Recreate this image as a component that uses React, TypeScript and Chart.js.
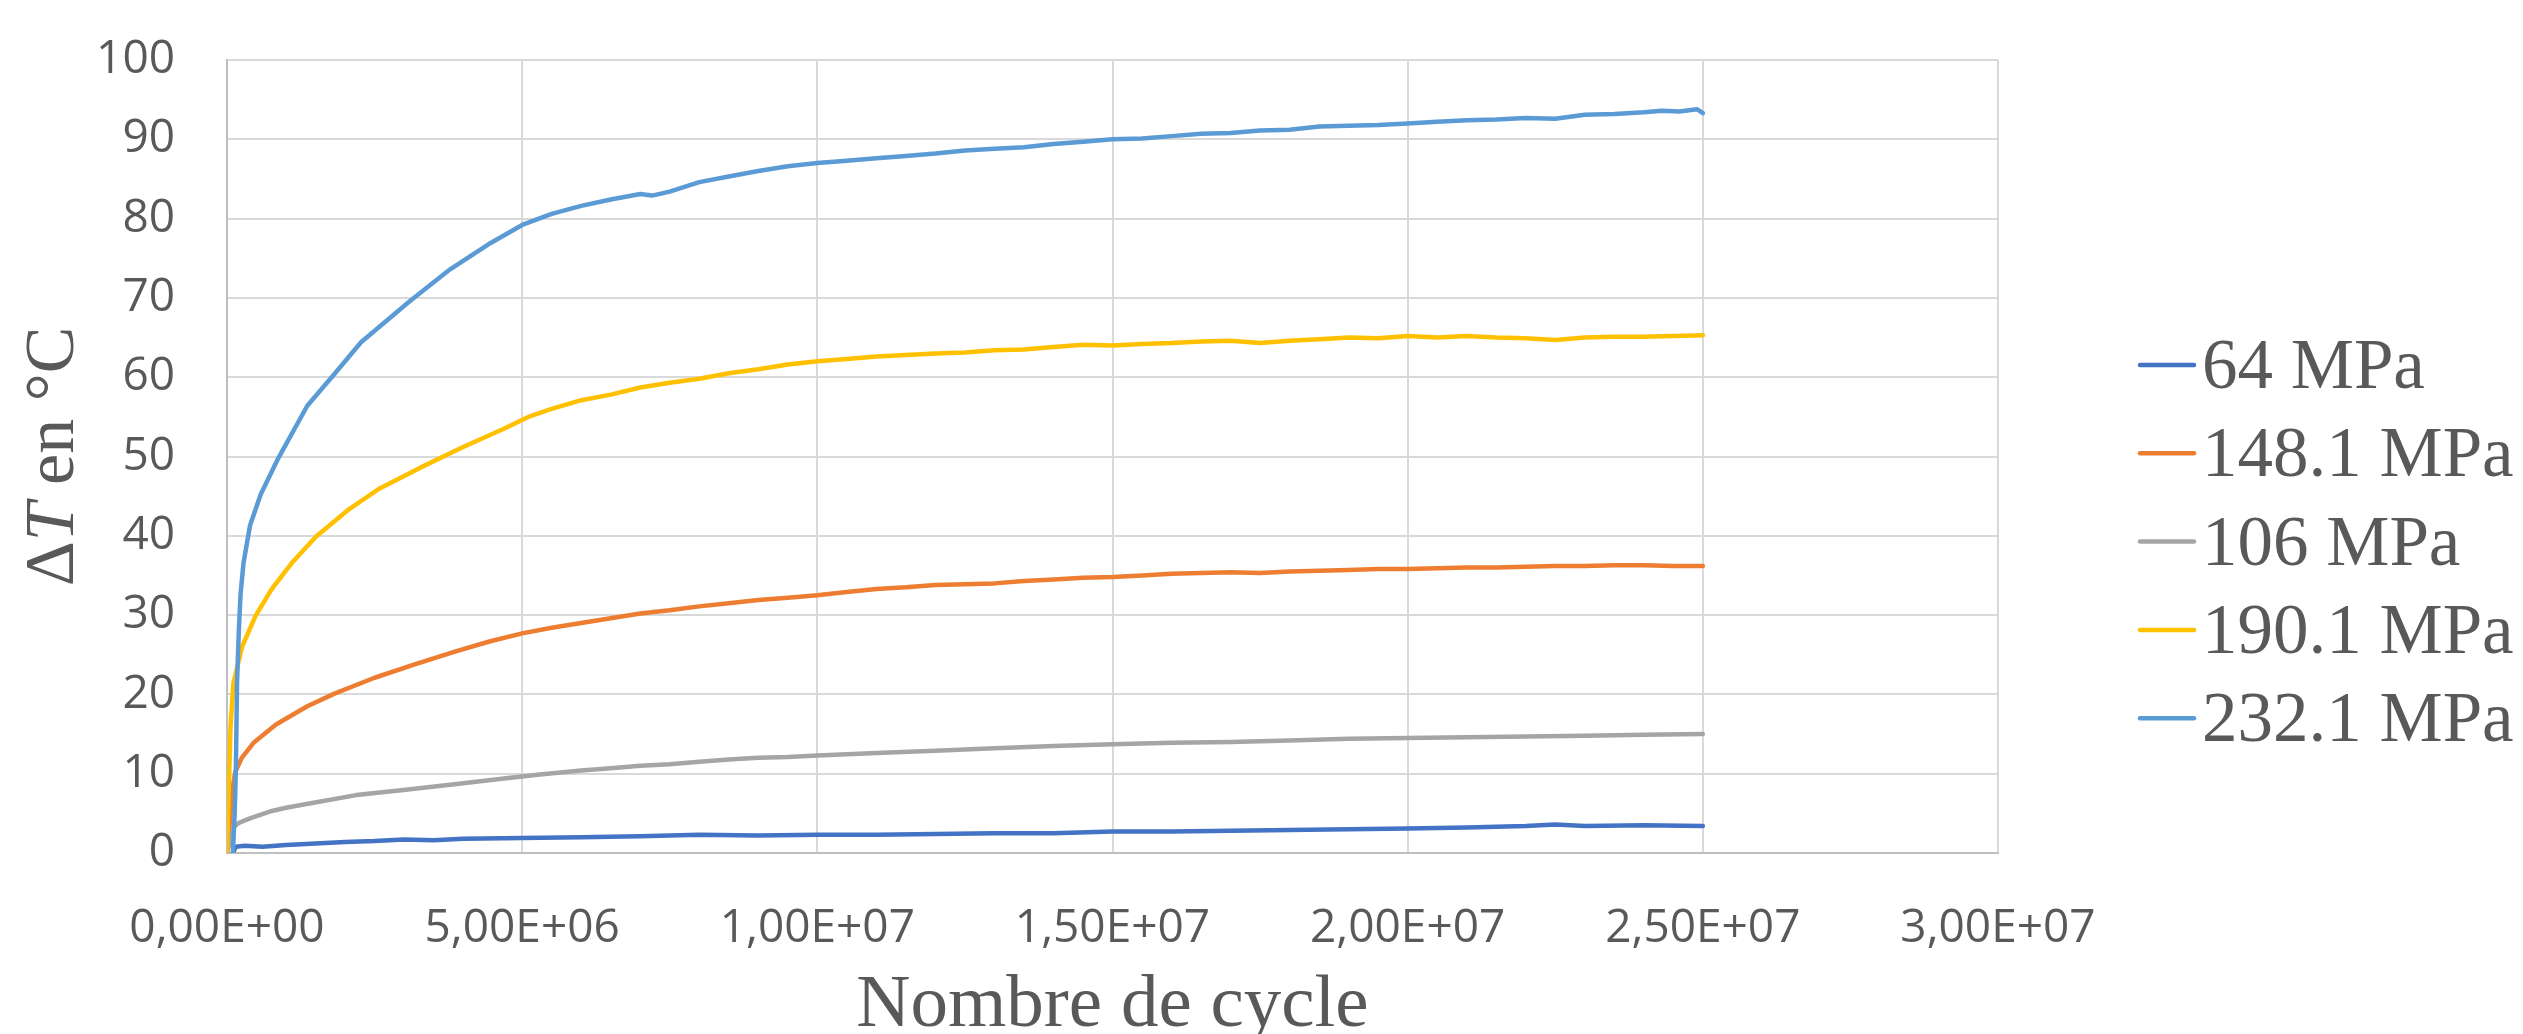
import React, { useEffect, useRef } from "react";
import { Chart, registerables } from "chart.js";

Chart.register(...registerables);

// ---- data (cycles in millions, ΔT in °C) ----
const SERIES_NAMES = ["64 MPa", "148.1 MPa", "106 MPa", "190.1 MPa", "232.1 MPa"];
const SERIES_COLORS = ["#4472C4", "#ED7D31", "#A5A5A5", "#FFC000", "#5B9BD5"];

const cycles64 = [0.10, 0.15, 0.3, 0.6, 1.0, 1.5, 2.0, 2.5, 3.0, 3.5, 4.0, 5.0, 6.0, 7.0, 8.0, 9.0, 10, 11, 12, 13, 14, 15, 16, 17, 18, 19, 20, 21, 22, 22.5, 23, 24, 25];
const dT64 = [0, 0.8, 0.9, 0.8, 1.0, 1.2, 1.4, 1.5, 1.7, 1.6, 1.8, 1.9, 2.0, 2.1, 2.3, 2.2, 2.3, 2.3, 2.4, 2.5, 2.5, 2.7, 2.7, 2.8, 2.9, 3.0, 3.1, 3.2, 3.4, 3.6, 3.4, 3.5, 3.4];

const cycles148 = [0, 0.05, 0.10, 0.14, 0.25, 0.45, 0.83, 1.36, 1.82, 2.5, 3.18, 3.86, 4.46, 5.0, 5.5, 6.0, 6.5, 7.0, 7.5, 8.0, 8.5, 9.0, 9.5, 10, 10.5, 11, 11.5, 12, 12.5, 13, 13.5, 14, 14.5, 15, 15.5, 16, 16.5, 17, 17.5, 18, 18.5, 19, 19.5, 20, 20.5, 21, 21.5, 22, 22.5, 23, 23.5, 24, 24.5, 25];
const dT148 = [0, 4, 8.5, 10.2, 12.0, 13.9, 16.2, 18.5, 20.1, 22.1, 23.8, 25.4, 26.7, 27.7, 28.4, 29.0, 29.6, 30.2, 30.6, 31.1, 31.5, 31.9, 32.2, 32.5, 32.9, 33.3, 33.5, 33.8, 33.9, 34.0, 34.3, 34.5, 34.7, 34.8, 35.0, 35.2, 35.3, 35.4, 35.3, 35.5, 35.6, 35.7, 35.8, 35.8, 35.9, 36.0, 36.0, 36.1, 36.2, 36.2, 36.3, 36.3, 36.2, 36.2];

const cycles106 = [0, 0.05, 0.12, 0.2, 0.4, 0.76, 1.0, 1.44, 2.19, 2.95, 3.78, 4.69, 5.3, 6.0, 6.5, 7.0, 7.5, 8.0, 8.5, 9, 9.5, 10, 11, 12, 13, 14, 15, 16, 17, 18, 19, 20, 21, 22, 23, 24, 25];
const dT106 = [0, 1.5, 3.3, 3.8, 4.4, 5.3, 5.7, 6.3, 7.3, 7.9, 8.6, 9.4, 9.9, 10.4, 10.7, 11.0, 11.2, 11.5, 11.8, 12.0, 12.1, 12.3, 12.6, 12.9, 13.2, 13.5, 13.7, 13.9, 14.0, 14.2, 14.4, 14.5, 14.6, 14.7, 14.8, 14.9, 15.0];

const cycles190 = [0, 0.03, 0.06, 0.11, 0.26, 0.49, 0.76, 1.10, 1.51, 2.04, 2.57, 3.25, 4.0, 4.69, 5.14, 5.5, 6.0, 6.5, 7.0, 7.5, 8.0, 8.5, 9.0, 9.5, 10, 10.5, 11, 11.5, 12, 12.5, 13, 13.5, 14, 14.5, 15, 15.5, 16, 16.5, 17, 17.5, 18, 18.5, 19, 19.5, 20, 20.5, 21, 21.5, 22, 22.5, 23, 23.5, 24, 24.5, 25];
const dT190 = [0, 8, 16, 21.5, 26.1, 30, 33.3, 36.6, 39.9, 43.2, 45.9, 48.5, 51.2, 53.5, 55.1, 56.0, 57.1, 57.8, 58.7, 59.3, 59.8, 60.5, 61.0, 61.6, 62.0, 62.3, 62.6, 62.8, 63.0, 63.1, 63.4, 63.5, 63.8, 64.1, 64.0, 64.2, 64.3, 64.5, 64.6, 64.3, 64.6, 64.8, 65.0, 64.9, 65.2, 65.0, 65.2, 65.0, 64.9, 64.7, 65.0, 65.1, 65.1, 65.2, 65.3];

const cycles232 = [0.10, 0.13, 0.15, 0.17, 0.20, 0.23, 0.28, 0.39, 0.57, 0.87, 1.36, 1.82, 2.27, 3.10, 3.78, 4.46, 5.0, 5.5, 6.0, 6.5, 7.0, 7.2, 7.5, 8.0, 8.5, 9.0, 9.5, 10, 10.5, 11, 11.5, 12, 12.5, 13, 13.5, 14, 14.5, 15, 15.5, 16, 16.5, 17, 17.5, 18, 18.5, 19, 19.5, 20, 20.5, 21, 21.5, 22, 22.5, 23, 23.5, 24, 24.3, 24.6, 24.9, 25];
const dT232 = [0, 5, 10.5, 21.4, 28, 32.7, 36.6, 41.3, 45.2, 49.8, 56.4, 60.4, 64.4, 69.6, 73.6, 76.9, 79.2, 80.6, 81.6, 82.4, 83.1, 82.9, 83.4, 84.6, 85.3, 86.0, 86.6, 87.0, 87.3, 87.6, 87.9, 88.2, 88.6, 88.8, 89.0, 89.4, 89.7, 90.0, 90.1, 90.4, 90.7, 90.8, 91.1, 91.2, 91.6, 91.7, 91.8, 92.0, 92.2, 92.4, 92.5, 92.7, 92.6, 93.1, 93.2, 93.4, 93.6, 93.5, 93.8, 93.3];

const SERIES_CYCLES = [cycles64, cycles148, cycles106, cycles190, cycles232];
const SERIES_VALUES = [dT64, dT148, dT106, dT190, dT232];

const X_TICK_LABELS = ["0,00E+00", "5,00E+06", "1,00E+07", "1,50E+07", "2,00E+07", "2,50E+07", "3,00E+07"];
const X_TITLE = "Nombre de cycle";

const TEXT_COLOR = "#595959";
const SERIF = '"Liberation Serif", "DejaVu Serif", serif';
const SANS = '"Open Sans", "Noto Sans", sans-serif';

const W = 2523;
const H = 1034;

const overlayPlugin = {
  id: "overlay",
  afterDraw(chart: any) {
    const ctx = chart.ctx;
    const area = chart.chartArea;
    ctx.save();
    ctx.fillStyle = TEXT_COLOR;

    // Y title: "ΔT en °C" with italic T, rotated
    const normal = `70px ${SERIF}`;
    const italic = `italic 70px ${SERIF}`;
    const parts = [
      { t: "Δ", f: normal },
      { t: "T", f: italic },
      { t: " en °C", f: normal },
    ];
    let total = 0;
    for (const p of parts) {
      ctx.font = p.f;
      total += ctx.measureText(p.t).width;
    }
    ctx.translate(73, (area.top + area.bottom) / 2);
    ctx.rotate(-Math.PI / 2);
    ctx.textBaseline = "alphabetic";
    ctx.textAlign = "left";
    let x = -total / 2;
    for (const p of parts) {
      ctx.font = p.f;
      ctx.fillText(p.t, x, 0);
      x += ctx.measureText(p.t).width;
    }
    ctx.restore();

    // X title
    ctx.save();
    ctx.fillStyle = TEXT_COLOR;
    ctx.font = `75px ${SERIF}`;
    ctx.textAlign = "center";
    ctx.textBaseline = "alphabetic";
    ctx.fillText(X_TITLE, (area.left + area.right) / 2, 1026);
    ctx.restore();

    // Legend
    ctx.save();
    const lx0 = area.right + 142;
    const lx1 = lx0 + 54;
    const y0 = 365;
    const dy = 88.3;
    chart.data.datasets.forEach((ds: any, i: number) => {
      const y = y0 + i * dy;
      ctx.strokeStyle = ds.borderColor;
      ctx.lineWidth = 4.5;
      ctx.lineCap = "round";
      ctx.beginPath();
      ctx.moveTo(lx0, y);
      ctx.lineTo(lx1, y);
      ctx.stroke();
      ctx.fillStyle = TEXT_COLOR;
      ctx.font = `71px ${SERIF}`;
      ctx.textAlign = "left";
      ctx.textBaseline = "alphabetic";
      ctx.fillText(ds.label, lx1 + 8, y + 23);
    });
    ctx.restore();
  },
};

export default function App() {
  const ref = useRef<HTMLCanvasElement | null>(null);

  useEffect(() => {
    if (!ref.current) return;
    const datasets = SERIES_NAMES.map((name, i) => ({
      label: name,
      data: SERIES_CYCLES[i].map((c, j) => ({ x: c * 1e6, y: SERIES_VALUES[i][j] })),
      borderColor: SERIES_COLORS[i],
      backgroundColor: SERIES_COLORS[i],
      borderWidth: 4.5,
      pointRadius: 0,
      tension: 0,
      borderJoinStyle: "round" as const,
      borderCapStyle: "round" as const,
      order: SERIES_NAMES.length - 1 - i,
    }));

    const chart = new Chart(ref.current, {
      type: "line",
      data: { datasets },
      options: {
        animation: false,
        responsive: false,
        maintainAspectRatio: false,
        devicePixelRatio: 1,
        layout: { padding: { top: 60, right: 525, bottom: 0, left: 0 } },
        plugins: {
          legend: { display: false },
          tooltip: { enabled: false },
        },
        scales: {
          x: {
            type: "linear",
            min: 0,
            max: 3e7,
            afterFit: (s: any) => {
              s.height = 181;
              s.paddingLeft = 0;
              s.paddingRight = 0;
            },
            afterBuildTicks: (s: any) => {
              s.ticks = X_TICK_LABELS.map((_, i) => ({ value: i * 5e6 }));
            },
            ticks: {
              autoSkip: false,
              maxRotation: 0,
              minRotation: 0,
              padding: 48,
              color: TEXT_COLOR,
              font: { family: SANS, size: 46 },
              callback: (_v: any, i: number) => X_TICK_LABELS[i],
            },
            grid: { color: "#d9d9d9", lineWidth: 2, drawTicks: false },
            border: { color: "#bfbfbf", width: 2 },
          },
          y: {
            type: "linear",
            min: 0,
            max: 100,
            afterFit: (s: any) => {
              s.width = 227;
              s.paddingTop = 0;
              s.paddingBottom = 0;
            },
            ticks: {
              stepSize: 10,
              padding: 52,
              color: TEXT_COLOR,
              font: { family: SANS, size: 46 },
            },
            grid: { color: "#d9d9d9", lineWidth: 2, drawTicks: false },
            border: { color: "#bfbfbf", width: 2 },
          },
        },
      },
      plugins: [overlayPlugin],
    });
    return () => chart.destroy();
  }, []);

  return (
    <div style={{ position: "fixed", left: 0, top: 0, width: W, height: H, background: "#fff" }}>
      <canvas ref={ref} width={W} height={H} style={{ width: W, height: H, display: "block" }} />
    </div>
  );
}
